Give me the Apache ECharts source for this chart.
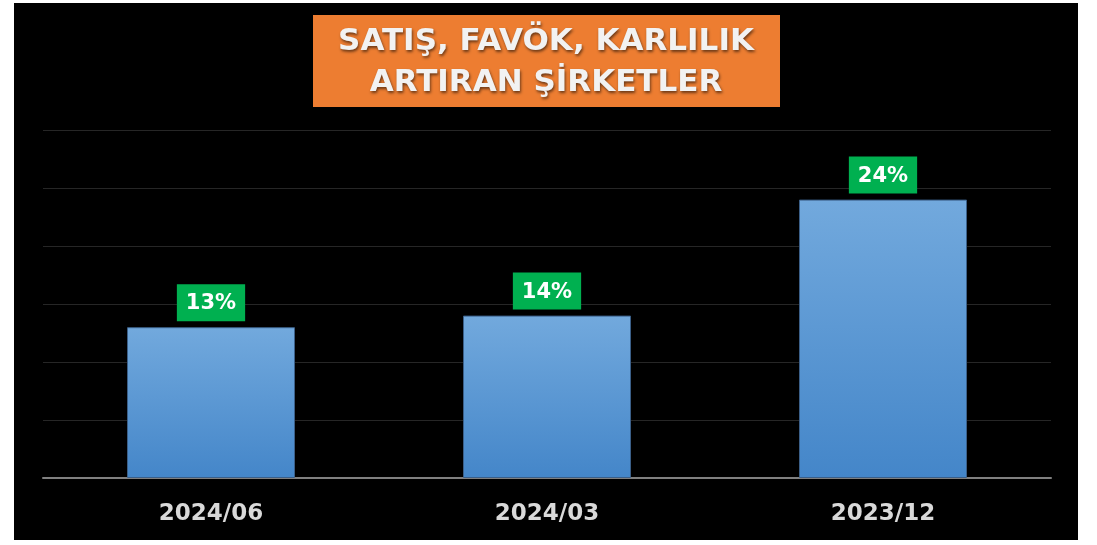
<!DOCTYPE html>
<html>
<head>
<meta charset="utf-8">
<script src="https://cdn.jsdelivr.net/npm/echarts@6/dist/echarts.min.js"></script>
<style>
  html, body { margin: 0; padding: 0; background: #fff; }
  #chart { width: 1097px; height: 545px; }
</style>
</head>
<body>
<div id="chart"></div>
<script>
var periods = ['2024/06', '2024/03', '2023/12'];
var shares = [13, 14, 24];
var titleLines = ['SATIŞ, FAVÖK, KARLILIK', 'ARTIRAN ŞİRKETLER'];

var chart = echarts.init(document.getElementById('chart'));

chart.setOption({
  backgroundColor: '#ffffff',
  animation: false,
  graphic: [
    {
      type: 'rect',
      z: -10,
      shape: { x: 14, y: 3, width: 1064, height: 537 },
      style: { fill: '#000000' }
    },
    {
      type: 'rect',
      z: 10,
      shape: { x: 313, y: 15, width: 467, height: 92 },
      style: { fill: '#ed7d31' }
    },
    {
      type: 'text',
      z: 11,
      x: 546,
      y: 62,
      style: {
        text: titleLines.join('\n'),
        align: 'center',
        verticalAlign: 'middle',
        fill: '#f2f2f2',
        font: 'bold 31px "DejaVu Sans"',
        lineHeight: 41,
        textShadowColor: 'rgba(0,0,0,0.55)',
        textShadowBlur: 3,
        textShadowOffsetX: 1,
        textShadowOffsetY: 2
      }
    }
  ],
  grid: {
    left: 43,
    right: 46,
    top: 130,
    bottom: 67
  },
  xAxis: {
    type: 'category',
    data: periods,
    axisTick: { show: false },
    axisLine: { lineStyle: { color: '#808080', width: 2 } },
    axisLabel: {
      color: '#d9d9d9',
      fontFamily: 'DejaVu Sans',
      fontWeight: 'bold',
      fontSize: 23,
      margin: 25
    }
  },
  yAxis: {
    type: 'value',
    min: 0,
    max: 30,
    interval: 5,
    axisLabel: { show: false },
    axisLine: { show: false },
    axisTick: { show: false },
    splitLine: { lineStyle: { color: '#262626', width: 1 } }
  },
  series: [{
    type: 'bar',
    data: shares,
    barWidth: '50%',
    itemStyle: {
      color: new echarts.graphic.LinearGradient(0, 0, 0, 1, [
        { offset: 0, color: '#72a9dd' },
        { offset: 1, color: '#4486c9' }
      ]),
      borderColor: '#3b5f88',
      borderWidth: 1
    },
    label: {
      show: true,
      position: 'top',
      distance: 6,
      formatter: '{c}%',
      color: '#ffffff',
      fontFamily: 'DejaVu Sans',
      fontWeight: 'bold',
      fontSize: 21,
      backgroundColor: '#00b050',
      padding: [9, 9, 7, 9]
    }
  }]
});
</script>
</body>
</html>
